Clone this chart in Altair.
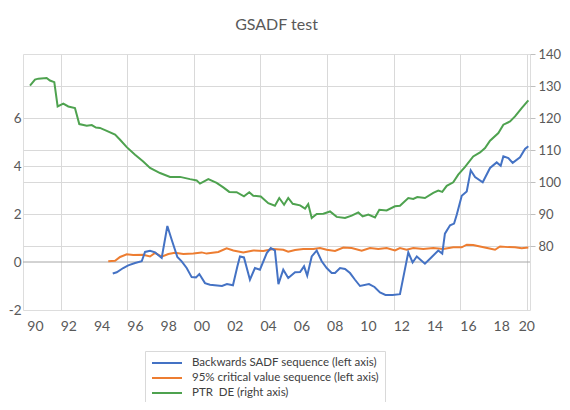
import altair as alt
import pandas as pd

# ---------------- data ----------------
series_names = [
    "Backwards SADF sequence (left axis)",
    "95% critical value sequence (left axis)",
    "PTR\u00a0 DE (right axis)",
]
series_colors = ["#4472C4", "#ED7D31", "#4EA24F"]

sadf_t = [1994.97, 1995.21, 1995.60, 1995.90, 1996.31, 1996.71, 1996.91, 1997.21, 1997.51, 1997.91,
          1998.25, 1998.51, 1998.85, 1999.11, 1999.41, 1999.71, 1999.97, 2000.17, 2000.51, 2000.81,
          2001.53, 2001.83, 2002.19, 2002.45, 2002.61, 2002.85, 2003.21, 2003.51, 2003.81, 2004.22,
          2004.46, 2004.71, 2004.92, 2005.21, 2005.51, 2005.92, 2006.22, 2006.46, 2006.65, 2006.92,
          2007.22, 2007.52, 2007.82, 2008.12, 2008.32, 2008.62, 2008.92, 2009.22, 2009.52, 2009.82,
          2010.36, 2010.69, 2011.02, 2011.35, 2011.78, 2012.22, 2012.72, 2012.98, 2013.23, 2013.72,
          2014.13, 2014.52, 2014.76, 2014.92, 2015.23, 2015.47, 2015.63, 2015.93, 2016.23, 2016.47,
          2016.73, 2017.19, 2017.63, 2018.03, 2018.27, 2018.43, 2018.73, 2018.99, 2019.43, 2019.73,
          2019.93]
sadf_v = [-0.48, -0.43, -0.25, -0.14, -0.04, 0.03, 0.42, 0.47, 0.40, 0.17,
          1.50, 0.93, 0.21, 0.03, -0.25, -0.63, -0.64, -0.50, -0.88, -0.95,
          -1.00, -0.92, -0.97, -0.20, 0.23, 0.19, -0.74, -0.25, -0.32, 0.37,
          0.58, 0.48, -0.92, -0.32, -0.67, -0.43, -0.42, -0.18, -0.57, 0.23,
          0.48, 0.03, -0.25, -0.46, -0.46, -0.25, -0.29, -0.46, -0.74, -1.00,
          -0.92, -1.04, -1.27, -1.37, -1.37, -1.34, 0.40, -0.02, 0.23, -0.07,
          0.21, 0.48, 0.35, 1.18, 1.53, 1.60, 1.97, 2.76, 2.94, 3.82,
          3.54, 3.32, 3.92, 4.15, 4.01, 4.40, 4.33, 4.13, 4.36, 4.71,
          4.82]

cv_t = [1994.70, 1995.11, 1995.41, 1995.81, 1996.20, 1996.80, 1997.21, 1997.51, 1997.91, 1998.31,
        1998.71, 1999.21, 1999.81, 2000.31, 2000.61, 2001.31, 2001.81, 2002.21, 2002.81, 2003.41,
        2004.01, 2004.61, 2005.21, 2005.51, 2005.92, 2006.41, 2007.02, 2007.42, 2007.82, 2008.32,
        2008.82, 2009.32, 2009.92, 2010.42, 2010.92, 2011.42, 2011.92, 2012.22, 2012.62, 2013.02,
        2013.62, 2014.22, 2014.82, 2015.42, 2015.93, 2016.23, 2016.62, 2017.03, 2017.53, 2017.93,
        2018.23, 2018.73, 2019.13, 2019.53, 2019.93]
cv_v = [0.03, 0.05, 0.21, 0.32, 0.29, 0.30, 0.23, 0.38, 0.22, 0.33,
        0.38, 0.33, 0.35, 0.40, 0.35, 0.42, 0.57, 0.48, 0.40, 0.48,
        0.46, 0.54, 0.51, 0.43, 0.50, 0.54, 0.54, 0.58, 0.51, 0.46,
        0.60, 0.58, 0.47, 0.58, 0.54, 0.58, 0.48, 0.58, 0.51, 0.58,
        0.54, 0.58, 0.54, 0.61, 0.61, 0.72, 0.71, 0.65, 0.57, 0.51,
        0.65, 0.62, 0.61, 0.57, 0.60]

ptr_t = [1990.00, 1990.30, 1990.50, 1991.00, 1991.20, 1991.46, 1991.66, 1992.00, 1992.30, 1992.70,
         1992.96, 1993.41, 1993.71, 1993.96, 1994.20, 1994.61, 1995.11, 1995.41, 1995.81, 1996.31,
         1996.80, 1997.21, 1997.81, 1998.41, 1999.01, 1999.61, 2000.01, 2000.21, 2000.71, 2001.21,
         2001.61, 2001.97, 2002.41, 2002.85, 2003.17, 2003.41, 2003.86, 2004.31, 2004.71, 2004.97,
         2005.26, 2005.51, 2005.78, 2006.22, 2006.52, 2006.71, 2006.92, 2007.22, 2007.62, 2008.02,
         2008.42, 2008.92, 2009.32, 2009.72, 2009.98, 2010.32, 2010.72, 2010.98, 2011.42, 2011.92,
         2012.22, 2012.72, 2013.02, 2013.26, 2013.72, 2014.22, 2014.52, 2014.76, 2015.03, 2015.42,
         2015.72, 2016.13, 2016.62, 2017.03, 2017.33, 2017.63, 2018.13, 2018.43, 2018.83, 2019.13,
         2019.53, 2019.93]
ptr_v = [130.1, 132.0, 132.3, 132.5, 131.7, 131.2, 123.6, 124.5, 123.6, 123.1,
         118.1, 117.6, 117.8, 117.0, 116.9, 116.0, 114.8, 113.2, 110.9, 108.5,
         106.4, 104.4, 102.8, 101.6, 101.6, 100.9, 100.5, 99.5, 100.9, 99.7,
         98.3, 96.9, 96.8, 95.5, 96.8, 95.7, 95.5, 93.4, 92.6, 95.0,
         92.9, 95.0, 93.2, 92.7, 91.7, 93.1, 88.75, 90.0, 90.1, 90.8,
         89.1, 88.75, 89.5, 90.5, 89.25, 89.8, 88.9, 91.3, 91.1, 92.4,
         92.6, 95.0, 94.7, 95.3, 95.0, 96.6, 97.3, 96.9, 98.8, 99.9,
         102.3, 104.7, 108.0, 109.25, 110.6, 112.9, 115.3, 117.9, 118.9, 120.5,
         123.1, 125.5]

label_years = list(range(1990, 2021, 2))
grid_years = [1991.84, 1995.84, 1999.84, 2003.84, 2007.84, 2011.84, 2015.84, 2019.84]
left_ticks = [-2, 0, 2, 4, 6]
right_ticks = [80, 90, 100, 110, 120, 130, 140]

# ---------------- tables ----------------
sadf_df = pd.DataFrame({"t": sadf_t, "v": sadf_v, "series": series_names[0]})
cv_df = pd.DataFrame({"t": cv_t, "v": cv_v, "series": series_names[1]})
ptr_df = pd.DataFrame({"t": ptr_t, "v": ptr_v, "series": series_names[2]})
zero_df = pd.DataFrame({"z": [0]})

FONT = "Lato"
TXT = "#595959"
GRID = "#d9d9d9"

x_scale = alt.Scale(domain=[1989.58, 2020.03], nice=False, zero=False)
x_axis = alt.Axis(
    values=sorted(label_years + grid_years),
    labelExpr="(datum.value % 1 == 0) ? substring(toString(datum.value), 2, 4) : ''",
    title=None, domain=False, ticks=False, labelOffset=5, labelPadding=9,
    labelFont=FONT, labelFontSize=14, labelColor=TXT,
    grid=True, gridColor=GRID, gridWidth=1,
    gridOpacity={"condition": {"test": "datum.value % 1 > 0.5", "value": 1}, "value": 0},
)
left_scale = alt.Scale(domain=[-2, 8.667], nice=False, zero=False)
left_axis = alt.Axis(
    values=left_ticks, labelExpr="toString(datum.value)", title=None,
    domain=False, ticks=False, tickSize=0, labelPadding=2,
    labelFont=FONT, labelFontSize=13.5, labelColor=TXT,
    grid=True, gridColor=GRID, gridWidth=1,
    gridOpacity={"condition": {"test": "datum.value > 0.5", "value": 1}, "value": 0},
)
right_scale = alt.Scale(domain=[60, 140], nice=False, zero=False)
right_axis = alt.Axis(
    orient="right", values=right_ticks, title=None,
    domain=False, ticks=True, tickSize=5, tickColor="#bfbfbf", labelPadding=3,
    labelFont=FONT, labelFontSize=13, labelColor=TXT,
    grid=True, gridColor=GRID, gridWidth=1,
    gridOpacity={"condition": {"test": "datum.value < 135", "value": 1}, "value": 0},
)

legend = alt.Legend(
    orient="none", legendX=122, legendY=297, direction="vertical", title=None,
    symbolType="M-3,0H3", symbolSize=100, symbolStrokeWidth=2, symbolOffset=10,
    labelOffset=19, labelFont=FONT, labelFontSize=11.5, labelColor="#404040",
    rowPadding=3, padding=6, strokeColor="#d9d9d9", fillColor="white",
    labelLimit=400,
)
color = alt.Color("series:N", scale=alt.Scale(domain=series_names, range=series_colors),
                  legend=legend)

x_enc = alt.X("t:Q", scale=x_scale, axis=x_axis)

zero_line = alt.Chart(zero_df).mark_rule(color="#a6a6a6", strokeWidth=1).encode(
    y=alt.Y("z:Q", scale=left_scale, axis=left_axis)
)
cv_line = alt.Chart(cv_df).mark_line(strokeWidth=2).encode(
    x=x_enc, y=alt.Y("v:Q", scale=left_scale, axis=left_axis), color=color
)
sadf_line = alt.Chart(sadf_df).mark_line(strokeWidth=2).encode(
    x=x_enc, y=alt.Y("v:Q", scale=left_scale, axis=left_axis), color=color
)
left = alt.layer(zero_line, cv_line, sadf_line)

ptr_line = alt.Chart(ptr_df).mark_line(strokeWidth=2).encode(
    x=x_enc, y=alt.Y("v:Q", scale=right_scale, axis=right_axis), color=color
)

chart = (
    alt.layer(left, ptr_line)
    .resolve_scale(y="independent")
    .properties(
        width=507, height=256,
        autosize=alt.AutoSizeParams(type="none"),
        padding={"left": 15, "top": 46, "right": 32, "bottom": 92},
        title=alt.TitleParams("GSADF test", font=FONT, fontSize=16, fontWeight="normal",
                              color=TXT, anchor="middle", offset=15),
    )
    .configure_view(stroke=None)
    .configure(background="white")
)

chart.save("out.html", embed_options={"renderer": "svg", "actions": False})
